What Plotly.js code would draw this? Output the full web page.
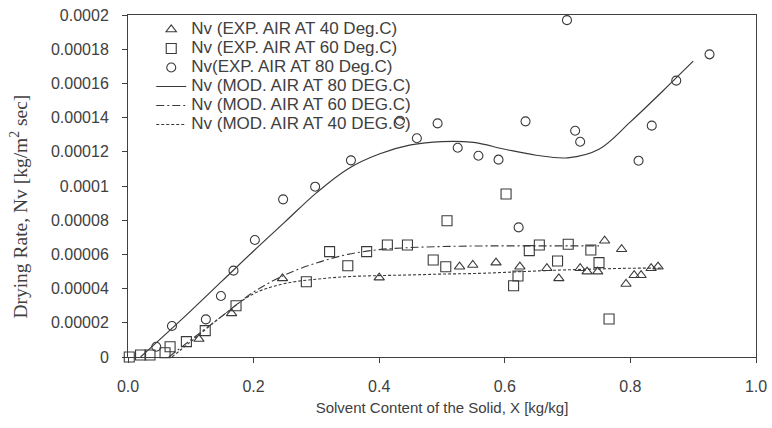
<!DOCTYPE html>
<html>
<head>
<meta charset="utf-8">
<script src="https://cdn.plot.ly/plotly-3.0.1.min.js"></script>
<style>html,body{margin:0;padding:0;background:#fff}#chart{width:772px;height:428px}</style>
</head>
<body>
<div id="chart"></div>
<script>
// Experimental data, 40 Deg.C (triangles)
const exp40X = [0.113, 0.165, 0.246, 0.400, 0.528, 0.549, 0.586, 0.624, 0.667, 0.686, 0.720, 0.731, 0.748, 0.759, 0.786, 0.793, 0.806, 0.817, 0.833, 0.844];
const exp40Y = [10.5e-6, 25.5e-6, 46e-6, 46.4e-6, 52.8e-6, 53.8e-6, 55.2e-6, 52.8e-6, 51.9e-6, 46e-6, 51.9e-6, 49.9e-6, 49.9e-6, 68e-6, 63e-6, 42.7e-6, 47.8e-6, 47.8e-6, 51.9e-6, 52.8e-6];

// Experimental data, 60 Deg.C (squares)
const exp60X = [0.002, 0.020, 0.035, 0.059, 0.067, 0.093, 0.123, 0.172, 0.284, 0.321, 0.350, 0.380, 0.413, 0.445, 0.486, 0.506, 0.508, 0.602, 0.614, 0.621, 0.639, 0.655, 0.684, 0.701, 0.737, 0.750, 0.766];
const exp60Y = [0, 1.2e-6, 1.2e-6, 2.5e-6, 6e-6, 9e-6, 15.4e-6, 30e-6, 44e-6, 61.6e-6, 53.4e-6, 61.6e-6, 65.5e-6, 65.5e-6, 56.7e-6, 52.8e-6, 79.7e-6, 95.3e-6, 41.7e-6, 47.4e-6, 62.2e-6, 65.5e-6, 56.1e-6, 65.9e-6, 62.6e-6, 55.2e-6, 22.2e-6];

// Experimental data, 80 Deg.C (circles)
const exp80X = [0.045, 0.070, 0.124, 0.148, 0.168, 0.202, 0.247, 0.298, 0.355, 0.433, 0.460, 0.493, 0.525, 0.558, 0.590, 0.622, 0.633, 0.699, 0.712, 0.720, 0.813, 0.834, 0.873, 0.926];
const exp80Y = [6e-6, 18.1e-6, 22e-6, 35.7e-6, 50.5e-6, 68.4e-6, 92.2e-6, 99.6e-6, 115e-6, 138.2e-6, 127.9e-6, 136.6e-6, 122.4e-6, 117.7e-6, 115.4e-6, 75.8e-6, 137.8e-6, 197e-6, 132.3e-6, 125.9e-6, 114.8e-6, 135.3e-6, 161.6e-6, 177e-6];

// Model curves
const mod80X = [0.02, 0.05, 0.10, 0.15, 0.20, 0.25, 0.30, 0.35, 0.40, 0.45, 0.50, 0.55, 0.60, 0.65, 0.70, 0.75, 0.80, 0.85, 0.90];
const mod80Y = [0, 10e-6, 27e-6, 44.5e-6, 62e-6, 79e-6, 96e-6, 110e-6, 118.7e-6, 124e-6, 126e-6, 125.5e-6, 121.5e-6, 118e-6, 116.5e-6, 121.5e-6, 137.5e-6, 155e-6, 173e-6];

const mod60X = [0.065, 0.10, 0.15, 0.20, 0.25, 0.30, 0.35, 0.40, 0.45, 0.50, 0.55, 0.60, 0.65, 0.70, 0.75];
const mod60Y = [0, 10e-6, 24e-6, 38e-6, 48e-6, 55e-6, 60e-6, 62.8e-6, 64e-6, 64.6e-6, 64.9e-6, 65e-6, 65e-6, 65e-6, 65e-6];

const mod40X = [0.07, 0.10, 0.15, 0.20, 0.25, 0.30, 0.35, 0.40, 0.45, 0.50, 0.55, 0.60, 0.65, 0.70, 0.75, 0.80, 0.85];
const mod40Y = [0, 9e-6, 24e-6, 37e-6, 43e-6, 45.5e-6, 47e-6, 47.6e-6, 48e-6, 48.5e-6, 48.8e-6, 49.5e-6, 50.3e-6, 51e-6, 51.5e-6, 51.9e-6, 52e-6];

const legendNames = [
  'Nv (EXP. AIR AT 40 Deg.C)',
  'Nv (EXP. AIR AT 60 Deg.C)',
  'Nv(EXP. AIR AT 80 Deg.C)',
  'Nv (MOD. AIR AT 80 DEG.C)',
  'Nv (MOD. AIR AT 60 DEG.C)',
  'Nv (MOD. AIR AT 40 DEG.C)'
];

const yTickVals = [0, 0.00002, 0.00004, 0.00006, 0.00008, 0.0001, 0.00012, 0.00014, 0.00016, 0.00018, 0.0002];
const yTickText = ['0', '0.00002', '0.00004', '0.00006', '0.00008', '0.0001', '0.00012', '0.00014', '0.00016', '0.00018', '0.0002'];
const xTickVals = [0, 0.2, 0.4, 0.6, 0.8, 1.0];
const xTickText = ['0.0', '0.2', '0.4', '0.6', '0.8', '1.0'];

const xTitle = 'Solvent Content of the Solid, X [kg/kg]';
const yTitle = 'Drying Rate, Nv [kg/m<sup>2</sup> sec]';

const ink = '#3a3a3a';
const big = s => '<span style="font-size:17px">' + s + '</span>';
const mk = (sym, size) => ({symbol: sym, size: size, color: ink, line: {color: ink, width: 1.1}});

const traces = [
  {x: exp40X, y: exp40Y, name: big(legendNames[0]), mode: 'markers', type: 'scatter', marker: mk('triangle-up-open', 9), cliponaxis: false},
  {x: exp60X, y: exp60Y, name: big(legendNames[1]), mode: 'markers', type: 'scatter', marker: mk('square-open', 10), cliponaxis: false},
  {x: exp80X, y: exp80Y, name: big(legendNames[2]), mode: 'markers', type: 'scatter', marker: mk('circle-open', 9), cliponaxis: false},
  {x: mod80X, y: mod80Y, name: big(legendNames[3]), mode: 'lines', type: 'scatter', line: {color: ink, width: 1.2, shape: 'spline'}},
  {x: mod60X, y: mod60Y, name: big(legendNames[4]), mode: 'lines', type: 'scatter', line: {color: ink, width: 1.1, shape: 'spline', dash: '8px,3px,2px,3px'}},
  {x: mod40X, y: mod40Y, name: big(legendNames[5]), mode: 'lines', type: 'scatter', line: {color: ink, width: 1.1, shape: 'spline', dash: '3px,2px'}}
];

const layout = {
  width: 772, height: 428,
  margin: {l: 128, r: 16, t: 15, b: 71},
  paper_bgcolor: '#fff', plot_bgcolor: '#fff',
  font: {family: 'Liberation Sans, Arial, sans-serif', color: '#404040', size: 14},
  showlegend: true,
  legend: {x: 0.037, y: 1.0, xanchor: 'left', yanchor: 'top', bgcolor: 'rgba(255,255,255,0)', font: {size: 12, color: '#404040'}, tracegroupgap: 0, itemwidth: 30},
  xaxis: {
    range: [0, 1.0], tickvals: xTickVals, ticktext: xTickText,
    showgrid: false, zeroline: false, showline: true, mirror: true, linecolor: '#404040', linewidth: 1,
    ticks: 'outside', ticklen: 5, tickcolor: '#404040',
    tickfont: {size: 16, color: '#404040'}, ticklabelstandoff: 10,
    title: {text: xTitle, font: {size: 15, color: '#404040'}, standoff: 8}
  },
  yaxis: {
    range: [0, 0.0002], tickvals: yTickVals, ticktext: yTickText,
    showgrid: false, zeroline: false, showline: true, mirror: true, linecolor: '#404040', linewidth: 1,
    ticks: 'outside', ticklen: 5, tickcolor: '#404040',
    tickfont: {size: 16, color: '#404040'}, ticklabelstandoff: 10
  },
  annotations: [{
    text: yTitle, textangle: -90, xref: 'paper', yref: 'paper',
    x: -0.175, y: 0.44, xanchor: 'center', yanchor: 'middle', showarrow: false,
    font: {family: 'Liberation Serif, Times New Roman, serif', size: 19.5, color: '#404040'}
  }]
};

Plotly.newPlot('chart', traces, layout, {displayModeBar: false, staticPlot: true});
</script>
</body>
</html>
